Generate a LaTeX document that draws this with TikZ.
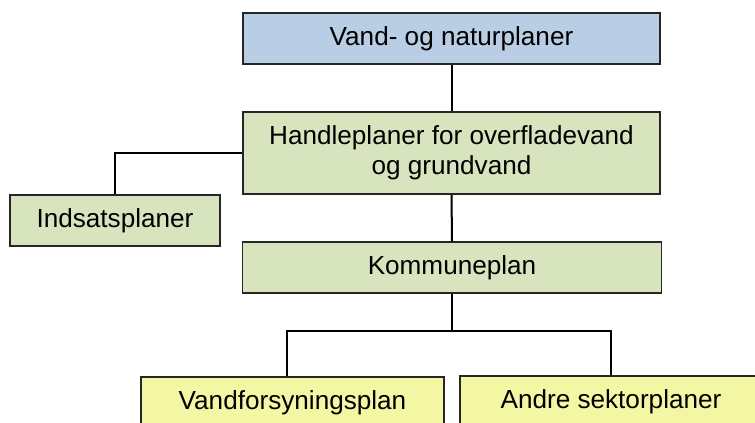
\documentclass[tikz,border=0pt]{standalone}
\usepackage{fontspec}
\setmainfont{Liberation Sans}
\usepackage{tikz}
\usetikzlibrary{calc}
\definecolor{planblue}{HTML}{B9CDE5}
\definecolor{plangreen}{HTML}{D7E4BD}
\definecolor{planyellow}{HTML}{F3F6A2}

\begin{document}
\begin{tikzpicture}
    [x={(0.75pt,0)},y={(0,-0.75pt)},line join=miter,
     planbox/.style={draw=black!85,line width=1.4pt,inner sep=0pt,align=center,
       font=\fontsize{19.6}{22.5}\selectfont},
     link/.style={draw=black,line width=1.5pt}]
    \useasboundingbox (0,0) rectangle (755,423);
    \clip (0,0) rectangle (755,423);

    % boxes
    \node[planbox,fill=planblue,minimum width=417*0.75pt,minimum height=51*0.75pt]
      (vandnatur) at (451.5,38.5) {Vand- og naturplaner};
    \node[planbox,fill=plangreen,minimum width=417*0.75pt,minimum height=82*0.75pt]
      (handle) at (451.5,153) {Handleplaner for overfladevand\\og grundvand};
    \node[planbox,fill=plangreen,minimum width=210*0.75pt,minimum height=51*0.75pt]
      (indsats) at (115,220.5) {Indsatsplaner};
    \node[planbox,fill=plangreen,minimum width=419*0.75pt,minimum height=51*0.75pt]
      (kommune) at (452,267.5) {Kommuneplan};
    \node[planbox,fill=planyellow,minimum width=303*0.75pt,minimum height=51*0.75pt]
      (vandfors) at (292.5,402.5) {Vandforsyningsplan};
    \node[planbox,fill=planyellow,minimum width=302*0.75pt,minimum height=51*0.75pt]
      (andre) at (611,401.5) {Andre sektorplaner};

    % connectors
    \draw[link] (vandnatur.south) -- (handle.north);
    \draw[link] (indsats.north) |- (handle.west);
    \draw[link] (handle.south) -- (kommune.north);
    \draw[link] (kommune.south) -- ++(0,37) coordinate (bus);
    \draw[link] ($(vandfors.north)+(-6,0)$) |- (bus) -| (andre.north);
  \end{tikzpicture}
\end{document}
